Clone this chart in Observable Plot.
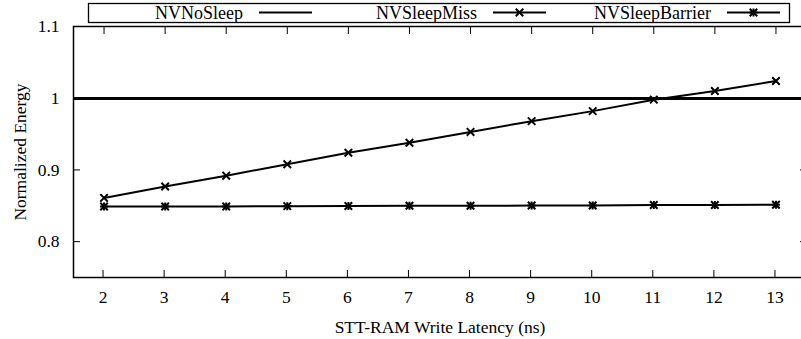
<!DOCTYPE html>
<html><head><meta charset="utf-8">
<script src="https://cdn.jsdelivr.net/npm/d3@7"></script>
<script src="https://cdn.jsdelivr.net/npm/@observablehq/plot@0.6"></script>
<style>
body{margin:0;background:#fff;font-family:'Liberation Serif';}
#wrap{position:relative;width:801px;height:339px;}
#legend{position:absolute;left:0;top:0;}
</style></head><body><div id="wrap"></div>
<script>
const latency = [2, 3, 4, 5, 6, 7, 8, 9, 10, 11, 12, 13];
const noSleep = [1, 1, 1, 1, 1, 1, 1, 1, 1, 1, 1, 1];
const sleepMiss = [0.861, 0.877, 0.892, 0.908, 0.924, 0.938, 0.953, 0.968, 0.982, 0.998, 1.010, 1.024];
const sleepBarrier = [0.849, 0.849, 0.849, 0.8495, 0.8497, 0.850, 0.850, 0.8503, 0.8505, 0.851, 0.851, 0.8515];
const seriesNames = ["NVNoSleep", "NVSleepMiss", "NVSleepBarrier"];
const yTicks = [0.8, 0.9, 1, 1.1];
const yTickLabels = ["0.8", "0.9", "1", "1.1"];
const xLabel = "STT-RAM Write Latency (ns)";
const yLabel = "Normalized Energy";

const miss = latency.map((x, i) => ({x, y: sleepMiss[i]}));
const barrier = latency.map((x, i) => ({x, y: sleepBarrier[i]}));
const FS = 17.5;
const FONT = "Liberation Serif";

const chart = Plot.plot({
  width: 801, height: 339,
  marginTop: 26, marginBottom: 62, marginLeft: 73, marginRight: -5,
  style: "font-family: 'Liberation Serif'; font-size: 17.5px; color: #000; background: #fff;",
  x: {domain: [1.5, 13.5]},
  y: {domain: [0.75, 1.1]},
  marks: [
    Plot.axisX({anchor: "bottom", ticks: latency, tickSize: -7, tickPadding: 20, label: xLabel, labelAnchor: "center", labelArrow: "none", labelOffset: 55, fontSize: FS, fontFamily: FONT, dx: -1}),
    Plot.axisX({anchor: "top", ticks: latency, tickSize: -7, tickFormat: () => "", label: null}),
    Plot.axisY({anchor: "left", ticks: yTicks, tickSize: -7, tickPadding: 21, tickFormat: (d) => yTickLabels[yTicks.indexOf(d)], label: yLabel, labelAnchor: "center", labelArrow: "none", labelOffset: 60, fontSize: FS, fontFamily: FONT}),
    Plot.axisY({anchor: "right", ticks: yTicks, tickSize: -7, tickFormat: () => "", label: null}),
    Plot.ruleY(noSleep, {y: d => d, stroke: "#000", strokeWidth: 2}),
    Plot.line(miss, {x: "x", y: "y", stroke: "#000", strokeWidth: 2}),
    Plot.dot(miss, {x: "x", y: "y", symbol: "times", r: 3.5, stroke: "#000", strokeWidth: 2}),
    Plot.line(barrier, {x: "x", y: "y", stroke: "#000", strokeWidth: 2}),
    Plot.dot(barrier, {x: "x", y: "y", symbol: "times", r: 3.5, stroke: "#000", strokeWidth: 2}),
    Plot.dot(barrier, {x: "x", y: "y", symbol: "plus", r: 2.7, stroke: "#000", strokeWidth: 2}),
    Plot.frame({stroke: "#000", strokeWidth: 1.5})
  ]
});
const wrap = document.getElementById("wrap");
wrap.appendChild(chart);
chart.querySelectorAll("text").forEach(t => {
  t.setAttribute("font-family", FONT);
  t.style.setProperty("font-family", "'Liberation Serif'", "important");
});

// Legend overlay
const lg = d3.select(wrap).append("svg").attr("id", "legend").attr("width", 801).attr("height", 26);
lg.append("rect").attr("x", 88.5).attr("y", 3.5).attr("width", 701).attr("height", 19)
  .attr("fill", "#fff").attr("stroke", "#000").attr("stroke-width", 1.3);
const sampleStarts = [259, 493, 727];
seriesNames.forEach((name, i) => {
  const s = sampleStarts[i];
  lg.append("text").attr("x", s - 16).attr("y", 19).attr("text-anchor", "end")
    .attr("font-family", FONT).attr("font-size", 18).text(name);
  lg.append("line").attr("x1", s).attr("x2", s + 53).attr("y1", 12.5).attr("y2", 12.5).attr("stroke", "#000").attr("stroke-width", 2);
  const cx = s + 26.5;
  if (i >= 1) lg.append("path").attr("transform", `translate(${cx},12.5)`).attr("d", d3.symbol(d3.symbolTimes, Math.PI * 3.5 * 3.5)()).attr("fill", "none").attr("stroke", "#000").attr("stroke-width", 2);
  if (i === 2) lg.append("path").attr("transform", `translate(${cx},12.5)`).attr("d", d3.symbol(d3.symbolPlus, Math.PI * 2.7 * 2.7)()).attr("fill", "none").attr("stroke", "#000").attr("stroke-width", 2);
});
</script></body></html>
